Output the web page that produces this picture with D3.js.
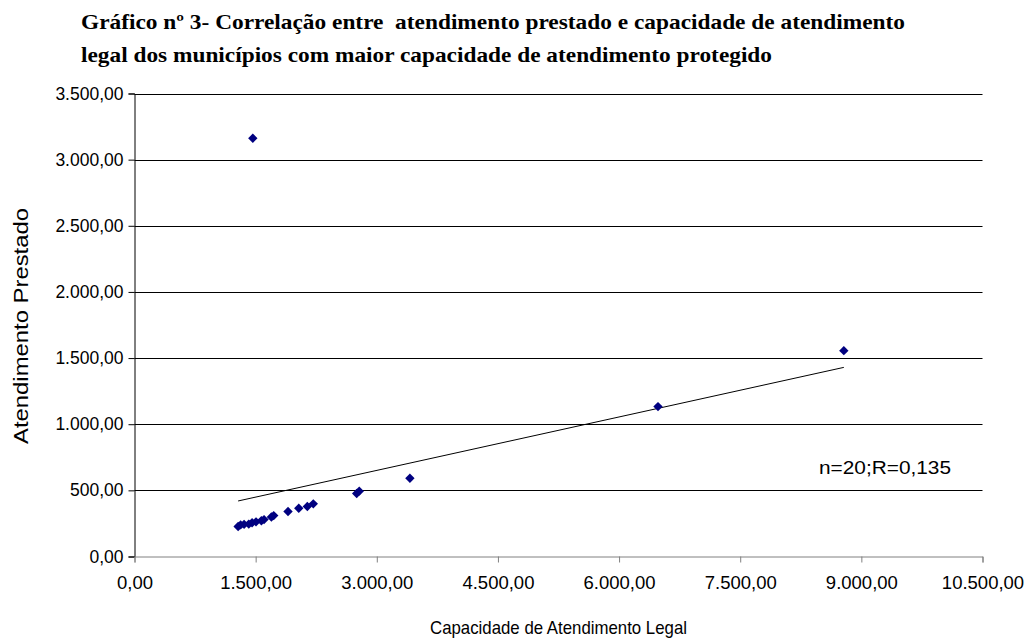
<!DOCTYPE html>
<html>
<head>
<meta charset="utf-8">
<script src="https://cdn.jsdelivr.net/npm/d3@7"></script>
<style>
  html, body { margin: 0; padding: 0; background: #fff; }
  svg { display: block; }
  text { white-space: pre; }
</style>
</head>
<body>
<svg id="chart" width="1029" height="641"></svg>
<script>
// Capacidade de atendimento legal (x) e atendimento prestado (y) por município
const capacidadeLegal = [1283, 1314, 1357, 1415, 1456, 1505, 1571, 1604, 1695, 1724,
                         1901, 2034, 2140, 2214, 2751, 2783, 3410, 6482, 8783, 1465];
const atendimentoPrestado = [227, 239, 243, 245, 255, 262, 270, 279, 299, 309,
                             340, 365, 378, 398, 476, 494, 592, 1133, 1556, 3162];

const xTicks = [0, 1500, 3000, 4500, 6000, 7500, 9000, 10500];
const yTicks = [0, 500, 1000, 1500, 2000, 2500, 3000, 3500];

const titleLines = [
  "Gráfico nº 3- Correlação entre  atendimento prestado e capacidade de atendimento",
  "legal dos municípios com maior capacidade de atendimento protegido"
];
const xTitle = "Capacidade de Atendimento Legal";
const yTitle = "Atendimento Prestado";
const annotation = "n=20;R=0,135";

const svg = d3.select("#chart");
const plot = { left: 134.5, right: 982.5, top: 93.5, bottom: 556.5 };

const x = d3.scaleLinear().domain([0, 10500]).range([plot.left, plot.right]);
const y = d3.scaleLinear().domain([0, 3500]).range([plot.bottom, plot.top]);

const ptBR = d3.formatLocale({ decimal: ",", thousands: ".", grouping: [3], currency: ["", ""] });
const fmt = ptBR.format(",.2f");
const sans = "'Liberation Sans', Arial, sans-serif";

// Title (bold serif, condensed)
const titleWidths = [824, 691];
titleLines.forEach((t, i) => {
  svg.append("text")
    .attr("x", 81)
    .attr("y", 29 + i * 33)
    .attr("font-family", "'Liberation Serif', 'Times New Roman', serif")
    .attr("font-weight", "bold")
    .attr("font-size", 22)
    .attr("textLength", titleWidths[i])
    .attr("lengthAdjust", "spacingAndGlyphs")
    .attr("fill", "#000")
    .text(t);
});

// Horizontal gridlines
svg.append("g")
  .selectAll("line")
  .data(yTicks.filter(v => v > 0))
  .join("line")
  .attr("x1", plot.left).attr("x2", plot.right)
  .attr("y1", d => Math.round(y(d)) + 0.5).attr("y2", d => Math.round(y(d)) + 0.5)
  .attr("stroke", "#000").attr("stroke-width", 1);

// Y axis
const yAxis = svg.append("g")
  .attr("transform", `translate(${plot.left},0)`)
  .call(d3.axisLeft(y).tickValues(yTicks).tickFormat(fmt).tickSize(6).tickPadding(5));
yAxis.select(".domain").attr("stroke", "#000");
yAxis.selectAll(".tick line").attr("stroke", "#000");
yAxis.selectAll("text")
  .attr("font-family", sans)
  .attr("font-size", 17.5).attr("fill", "#000");

// X axis
const xAxis = svg.append("g")
  .attr("transform", `translate(0,${plot.bottom})`)
  .call(d3.axisBottom(x).tickValues(xTicks).tickFormat(fmt).tickSize(6).tickPadding(13));
xAxis.select(".domain").attr("stroke", "#808080");
xAxis.selectAll(".tick line").attr("stroke", "#808080");
xAxis.selectAll("text")
  .attr("font-family", sans)
  .attr("font-size", 18.5).attr("fill", "#000");

// Axis titles
svg.append("text")
  .attr("x", (plot.left + plot.right) / 2)
  .attr("y", 634)
  .attr("text-anchor", "middle")
  .attr("font-family", sans)
  .attr("font-size", 19)
  .attr("textLength", 257)
  .attr("lengthAdjust", "spacingAndGlyphs")
  .text(xTitle);

svg.append("text")
  .attr("transform", `translate(28,${(plot.top + plot.bottom) / 2 + 1}) rotate(-90)`)
  .attr("text-anchor", "middle")
  .attr("font-family", sans)
  .attr("font-size", 21)
  .attr("textLength", 236)
  .attr("lengthAdjust", "spacingAndGlyphs")
  .text(yTitle);

// Linear trend line (least squares) over the x range of the data
const mx = d3.mean(capacidadeLegal), my = d3.mean(atendimentoPrestado);
let sxy = 0, sxx = 0;
capacidadeLegal.forEach((xv, i) => {
  sxy += (xv - mx) * (atendimentoPrestado[i] - my);
  sxx += (xv - mx) * (xv - mx);
});
const slope = sxy / sxx, intercept = my - slope * mx;
const [xmin, xmax] = d3.extent(capacidadeLegal);
svg.append("line")
  .attr("x1", x(xmin)).attr("y1", y(intercept + slope * xmin))
  .attr("x2", x(xmax)).attr("y2", y(intercept + slope * xmax))
  .attr("stroke", "#000").attr("stroke-width", 1);

// Points (navy diamonds)
const diamond = d3.symbol().type(d3.symbolSquare).size(44);
svg.append("g")
  .selectAll("path")
  .data(capacidadeLegal.map((xv, i) => [xv, atendimentoPrestado[i]]))
  .join("path")
  .attr("d", diamond)
  .attr("transform", d => `translate(${x(d[0])},${y(d[1])}) rotate(45)`)
  .attr("fill", "#000080");

// Annotation
svg.append("text")
  .attr("x", 819)
  .attr("y", 474)
  .attr("font-family", sans)
  .attr("font-size", 18)
  .attr("textLength", 132)
  .attr("lengthAdjust", "spacingAndGlyphs")
  .text(annotation);
</script>
</body>
</html>
